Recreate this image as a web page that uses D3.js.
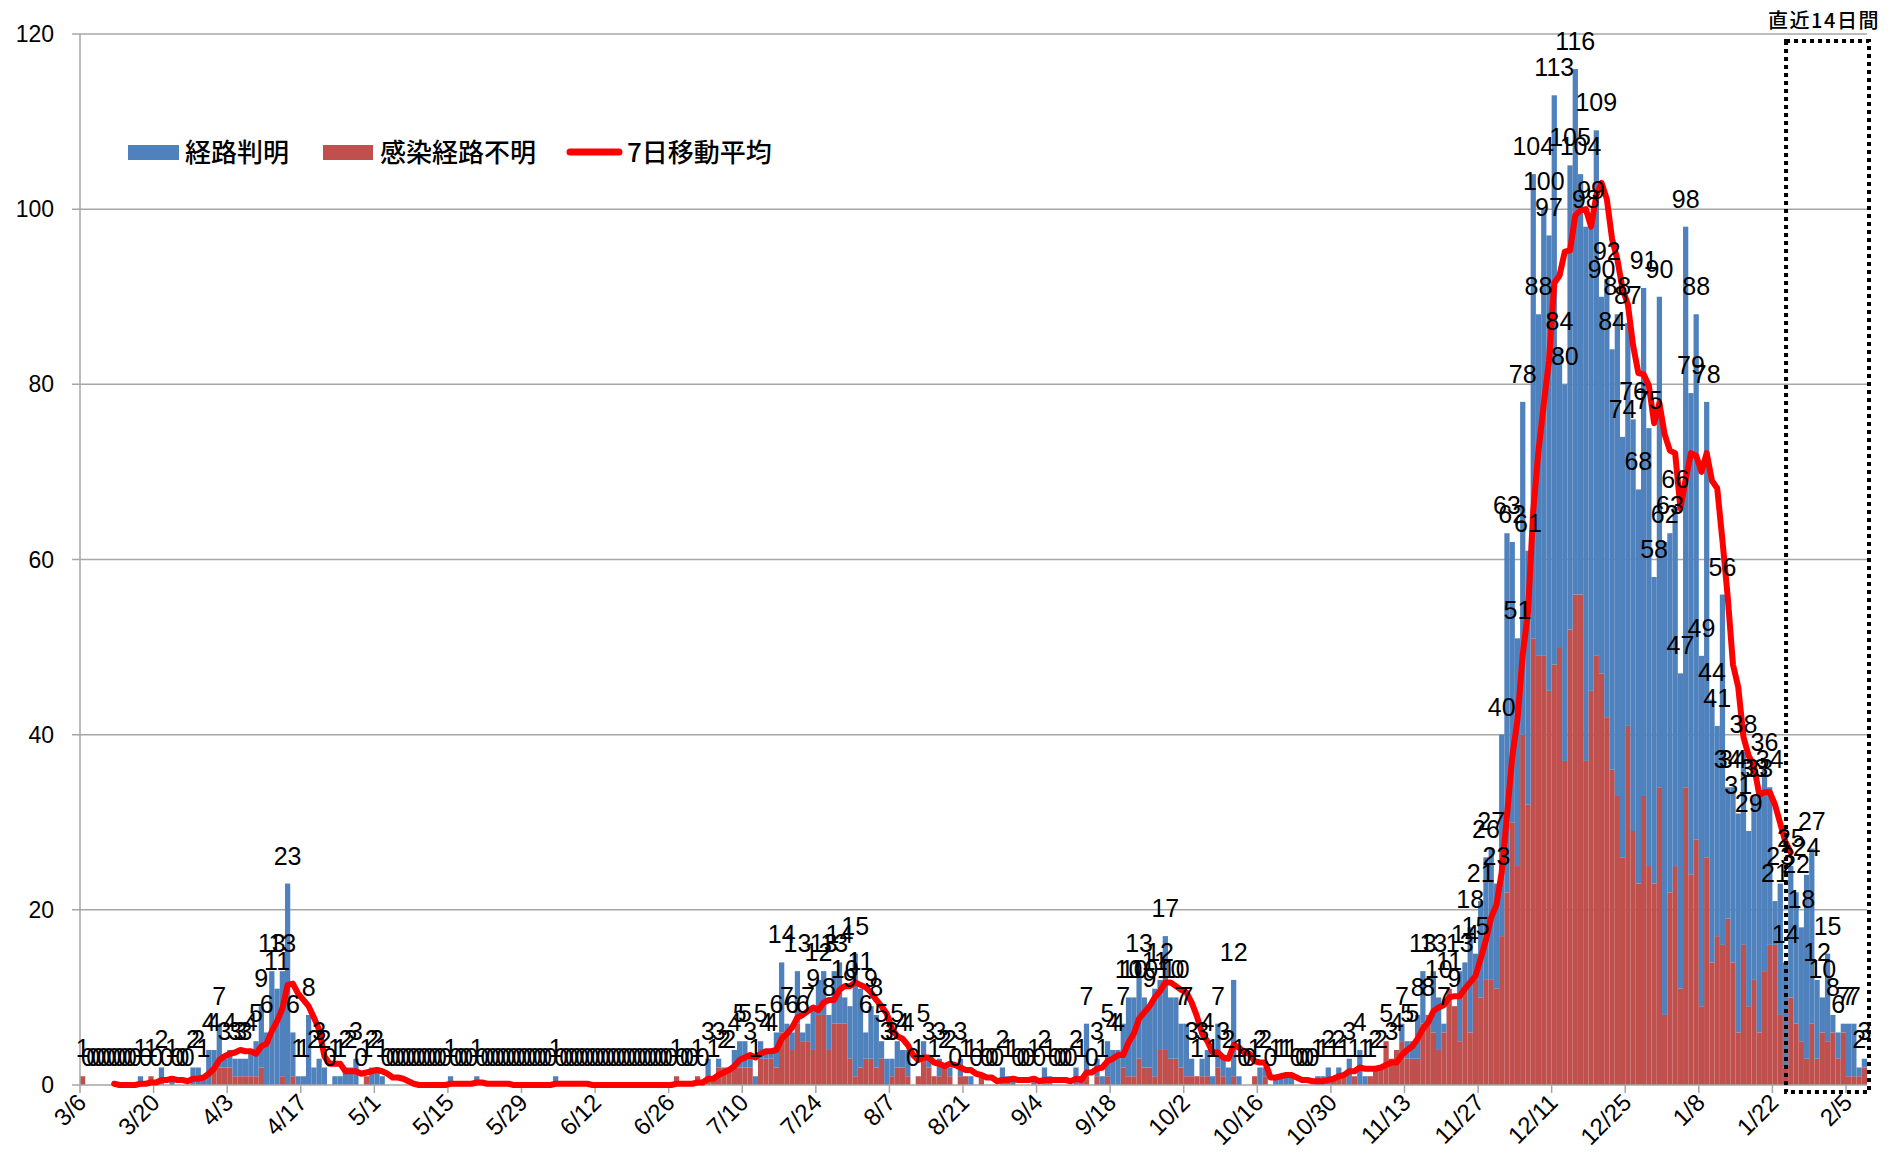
<!DOCTYPE html>
<html><head><meta charset="utf-8">
<script src="https://cdn.jsdelivr.net/npm/d3@7"></script>
<style>body{margin:0;background:#fff;} svg{display:block;}</style>
</head><body>
<svg id="c" width="1892" height="1168"></svg>
<script>
// ---------------- DATA ----------------
const startDate = "2020-03-06";
const tickLabels = ["3/6","3/20","4/3","4/17","5/1","5/15","5/29","6/12","6/26","7/10","7/24","8/7","8/21","9/4","9/18","10/2","10/16","10/30","11/13","11/27","12/11","12/25","1/8","1/22","2/5"];
const yTicks = [0,20,40,60,80,100,120];
const legendLabels = ["経路判明","感染経路不明","7日移動平均"];
const boxLabel = "直近14日間";
// daily totals (label above each bar)
const totals = [
1,0,0,0,0,0,0,0,0,0,
0,1,0,1,0,2,0,1,0,0,
0,2,2,1,4,4,7,3,4,3,
3,3,4,5,9,6,13,11,13,23,
6,1,1,8,2,3,2,0,1,1,
2,2,3,0,1,2,2,1,0,0,
0,0,0,0,0,0,0,0,0,0,
1,0,0,0,0,1,0,0,0,0,
0,0,0,0,0,0,0,0,0,0,
1,0,0,0,0,0,0,0,0,0,
0,0,0,0,0,0,0,0,0,0,
0,0,0,1,0,0,0,1,0,3,
1,3,2,2,4,5,5,3,1,5,
4,4,6,14,7,6,13,6,7,9,
12,13,8,13,14,10,9,15,11,6,
9,8,5,3,3,5,4,4,0,1,
5,3,1,3,2,2,0,3,1,1,
0,1,0,0,0,2,1,1,0,0,
0,1,0,2,1,0,0,0,0,2,
1,7,0,3,1,5,4,4,7,10,
10,13,10,9,11,12,17,10,10,7,
7,3,1,3,4,1,7,3,2,12,
1,0,0,1,2,2,0,1,1,1,
1,0,0,0,0,1,1,2,1,2,
1,3,1,4,1,1,2,2,5,3,
4,7,5,5,8,13,8,13,10,7,
11,9,13,14,18,15,21,26,27,23,
40,63,62,51,78,61,104,88,100,97,
113,84,80,105,116,104,98,99,109,90,
92,84,88,74,87,76,68,91,75,58,
90,62,63,66,47,98,79,88,49,78,
44,41,56,34,34,31,38,29,33,33,
36,34,21,23,14,25,22,18,24,27,
12,10,15,8,6,7,7,7,2,3
];
// unknown-route cases (red, bottom of stack)
const unknownRoute = [
1,0,0,0,0,0,0,0,0,0,
0,0,0,1,0,0,0,0,0,0,
0,0,0,0,0,2,2,2,2,1,
1,1,1,1,2,0,0,0,1,0,
1,0,0,0,0,0,0,0,0,0,
0,0,0,0,1,0,0,0,0,0,
0,0,0,0,0,0,0,0,0,0,
0,0,0,0,0,0,0,0,0,0,
0,0,0,0,0,0,0,0,0,0,
0,0,0,0,0,0,0,0,0,0,
0,0,0,0,0,0,0,0,0,0,
0,0,0,1,0,0,0,1,0,1,
1,2,2,2,2,2,2,2,0,3,
3,3,2,6,6,4,7,5,5,4,
8,8,4,7,7,7,3,1,2,3,
3,2,3,0,1,2,2,1,0,1,
3,2,1,1,2,1,0,1,1,0,
0,1,0,0,0,0,0,0,0,0,
0,0,0,0,0,0,0,0,0,0,
0,1,0,1,0,1,0,0,2,1,
1,3,2,2,1,4,4,3,3,2,
1,1,1,1,1,0,2,1,0,1,
0,0,0,1,0,1,0,0,0,0,
0,0,0,0,0,0,0,0,1,1,
1,0,1,0,0,1,2,2,5,3,
4,5,3,3,3,7,8,6,4,6,
11,9,5,11,6,12,10,12,12,11,
17,22,30,25,40,32,51,49,49,45,
48,50,37,52,56,56,37,45,49,47,
42,36,33,26,41,29,23,33,25,23,
34,8,22,25,11,34,24,28,9,26,
14,17,16,19,14,6,16,9,12,6,
13,16,16,8,2,10,7,5,3,7,
3,6,5,6,3,6,1,1,1,2
];
const maLastIndex = 325;   // moving average drawn up to here
const boxFirstIndex = 324.6; // dotted "recent 14 days" frame

// ---------------- CHART ----------------
const svg = d3.select("#c");
const P = {left:80, right:1867, top:34, bottom:1085};
const parse = d3.timeParse("%Y-%m-%d");
const t0 = parse(startDate);
const categories = d3.range(totals.length).map(i => { const d = d3.timeDay.offset(t0, i); return (d.getMonth()+1)+"/"+d.getDate(); });
const x = d3.scaleBand().domain(d3.range(totals.length)).range([P.left, P.right]).padding(0);
const bw = x.bandwidth();
const y = d3.scaleLinear().domain([0,120]).range([P.bottom, P.top]);
const known = totals.map((t,i) => t - unknownRoute[i]);
const BLUE = "#4F81BD", RED = "#C0504D";
const numFont = "'Liberation Sans', Arial, sans-serif";
const cjkFont = "'Noto Sans CJK JP', 'Noto Sans', sans-serif";

// gridlines
svg.append("g").selectAll("line").data(yTicks.filter(v => v > 0)).join("line")
  .attr("x1", P.left - 8).attr("x2", P.right)
  .attr("y1", d => y(d)).attr("y2", d => y(d))
  .attr("stroke", "#a6a6a6").attr("stroke-width", 1.5);

// bars
const bars = svg.append("g");
bars.selectAll("rect.u").data(d3.range(totals.length).filter(i => unknownRoute[i] > 0)).join("rect")
  .attr("x", i => x(i)).attr("width", bw)
  .attr("y", i => y(unknownRoute[i])).attr("height", i => y(0) - y(unknownRoute[i]))
  .attr("fill", RED);
bars.selectAll("rect.k").data(d3.range(totals.length).filter(i => known[i] > 0)).join("rect")
  .attr("x", i => x(i)).attr("width", bw)
  .attr("y", i => y(totals[i])).attr("height", i => y(unknownRoute[i]) - y(totals[i]))
  .attr("fill", BLUE);

// axes
svg.append("line").attr("x1", P.left).attr("x2", P.left).attr("y1", P.top).attr("y2", P.bottom)
  .attr("stroke", "#a6a6a6").attr("stroke-width", 1.5);
svg.append("line").attr("x1", P.left - 8).attr("x2", P.right).attr("y1", P.bottom).attr("y2", P.bottom)
  .attr("stroke", "#a6a6a6").attr("stroke-width", 1.5);
const tickIdx = tickLabels.map((_, k) => k * 14);
svg.append("g").selectAll("line").data(tickIdx).join("line")
  .attr("x1", i => x(i)).attr("x2", i => x(i)).attr("y1", P.bottom).attr("y2", P.bottom + 8)
  .attr("stroke", "#a6a6a6").attr("stroke-width", 1.5);
svg.append("g").selectAll("text").data(tickIdx).join("text")
  .attr("transform", (i, k) => `translate(${x(i) + bw/2 + 5},${P.bottom + 19}) rotate(-45)`)
  .attr("text-anchor", "end").attr("font-family", numFont).attr("font-size", 24)
  .text((i, k) => tickLabels[k]);
svg.append("g").selectAll("text").data(yTicks).join("text")
  .attr("x", 54).attr("y", d => y(d)).attr("dy", "0.35em").attr("text-anchor", "end")
  .attr("font-family", numFont).attr("font-size", 23).text(d => d);

// 7-day moving average of the daily totals
const ma = d3.range(6, maLastIndex + 1).map(i => ({i, v: d3.mean(totals.slice(i - 6, i + 1))}));
svg.append("path").datum(ma)
  .attr("d", d3.line().x(p => x(p.i) + bw/2).y(p => y(p.v)))
  .attr("fill", "none").attr("stroke", "#FF0000").attr("stroke-width", 6)
  .attr("stroke-linejoin", "round").attr("stroke-linecap", "round");

// data labels
svg.append("g").selectAll("text").data(d3.range(totals.length)).join("text")
  .attr("x", i => x(i) + bw/2).attr("y", i => y(totals[i]) - 19)
  .attr("text-anchor", "middle").attr("font-family", numFont).attr("font-size", 25)
  .attr("fill", "#000").text(i => totals[i]);

// dotted box for last 14 days
const bx0 = P.left + boxFirstIndex * bw;
svg.append("rect").attr("x", bx0).attr("y", 41).attr("width", P.right + 2 - bx0).attr("height", 1092 - 41)
  .attr("fill", "none").attr("stroke", "#000").attr("stroke-width", 4).attr("stroke-dasharray", "4 4");
svg.append("text").attr("x", 1824).attr("y", 28).attr("text-anchor", "middle")
  .attr("font-family", cjkFont).attr("font-size", 20).attr("font-weight", 500).attr("letter-spacing", 1.5).text(boxLabel);

// legend
const lg = svg.append("g").attr("font-family", cjkFont).attr("font-size", 26).attr("font-weight", 500);
lg.append("rect").attr("x", 128).attr("y", 145).attr("width", 51).attr("height", 15).attr("fill", BLUE);
lg.append("text").attr("x", 185).attr("y", 153).attr("dy", "0.35em").text(legendLabels[0]);
lg.append("rect").attr("x", 323).attr("y", 145).attr("width", 50).attr("height", 15).attr("fill", RED);
lg.append("text").attr("x", 380).attr("y", 153).attr("dy", "0.35em").text(legendLabels[1]);
lg.append("line").attr("x1", 570).attr("x2", 619).attr("y1", 152).attr("y2", 152)
  .attr("stroke", "#FF0000").attr("stroke-width", 7).attr("stroke-linecap", "round");
lg.append("text").attr("x", 627).attr("y", 153).attr("dy", "0.35em").text(legendLabels[2]);
</script>
</body></html>
